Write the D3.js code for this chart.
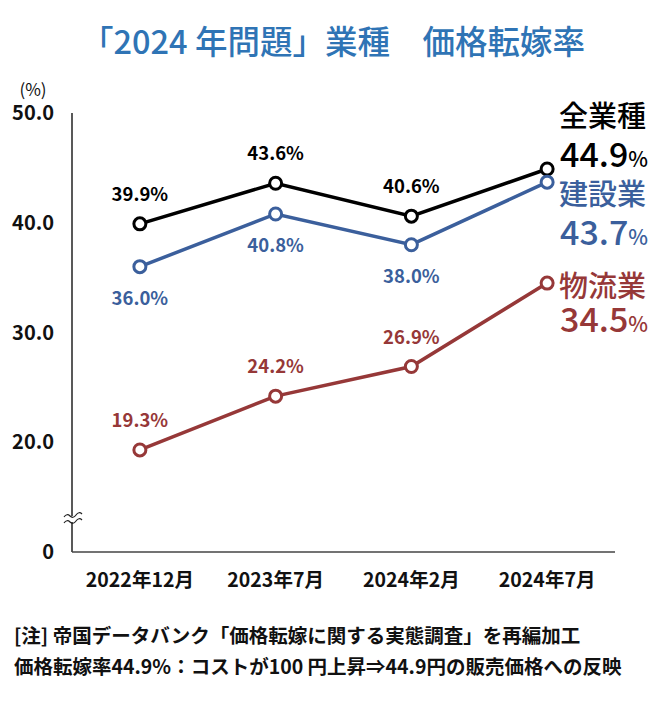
<!DOCTYPE html>
<html><head><meta charset="utf-8">
<script src="https://cdn.jsdelivr.net/npm/d3@7"></script>
<style>
html,body{margin:0;padding:0;background:#fff;}
text{font-family:"Noto Sans CJK JP","Noto Sans",sans-serif;}
</style></head>
<body><svg id="c" width="665" height="702"></svg>
<script>
const categories = ["2022年12月","2023年7月","2024年2月","2024年7月"];
const seriesNames = ["全業種","建設業","物流業"];
const allIndustry = [39.9, 43.6, 40.6, 44.9];
const construction = [36.0, 40.8, 38.0, 43.7];
const logistics = [19.3, 24.2, 26.9, 34.5];
const yTicks = [20, 30, 40, 50];
const yTickLabels = ["20.0","30.0","40.0","50.0"];
const colors = ["#000000","#3b5f9c","#963838"];
const labelPos = [["above","above","above",null],["below","below","below",null],["above","above","above",null]];

const svg = d3.select("#c");
const x = d3.scaleBand().domain(categories).range([72,615]);
const y = d3.scaleLinear().domain([10,50]).range([552,113]);

// title
svg.append("text").attr("x",333).attr("y",54).attr("text-anchor","middle")
  .attr("font-size",32.5).attr("font-weight",500).attr("fill","#2f74b5")
  .text("「2024 年問題」業種　価格転嫁率");

// axes
svg.append("line").attr("x1",72).attr("x2",72).attr("y1",y(50)).attr("y2",y(10)).attr("stroke","#222").attr("stroke-width",1.5);
svg.append("line").attr("x1",72).attr("x2",615).attr("y1",y(10)).attr("y2",y(10)).attr("stroke","#444").attr("stroke-width",1.5);

// break mark
const bk = svg.append("g").attr("transform","translate(72,520)");
bk.append("rect").attr("x",-6).attr("y",-4).attr("width",12).attr("height",6).attr("fill","#fff");
["M-8,-3 q3,-4 6,-1 t6,-1 t6,-1","M-8,3 q3,-4 6,-1 t6,-1 t6,-1"].forEach(d=>
  bk.append("path").attr("d",d).attr("fill","none").attr("stroke","#222").attr("stroke-width",1.2));

// y tick labels
yTicks.forEach((t,i)=>{
  svg.append("text").attr("x",54).attr("y",y(t)+7).attr("text-anchor","end")
    .attr("font-size",20).attr("font-weight",700).attr("fill","#111").text(yTickLabels[i]);
});
svg.append("text").attr("x",54).attr("y",y(10)+7).attr("text-anchor","end")
  .attr("font-size",20).attr("font-weight",700).attr("fill","#111").text("0");
svg.append("text").attr("x",33).attr("y",96).attr("text-anchor","middle")
  .attr("font-size",17).attr("fill","#111").text("(%)");

// x labels
categories.forEach(c=>{
  svg.append("text").attr("x",x(c)+x.bandwidth()/2).attr("y",587).attr("text-anchor","middle")
    .attr("font-size",19.5).attr("font-weight",700).attr("fill","#111").text(c);
});

const series = [allIndustry, construction, logistics];
const line = d3.line().x((d,i)=>x(categories[i])+x.bandwidth()/2).y(d=>y(d));
series.forEach((s,k)=>{
  svg.append("path").attr("d",line(s)).attr("fill","none").attr("stroke",colors[k]).attr("stroke-width",3.5);
  s.forEach((v,i)=>{
    const cx = x(categories[i])+x.bandwidth()/2, cy = y(v);
    svg.append("circle").attr("cx",cx).attr("cy",cy).attr("r",6).attr("fill","#fff")
      .attr("stroke",colors[k]).attr("stroke-width",3);
    const p = labelPos[k][i];
    if(p){
      svg.append("text").attr("x",cx).attr("y", p==="above"? cy-23 : cy+38).attr("text-anchor","middle")
        .attr("font-size",18.5).attr("font-weight",700).attr("fill",colors[k]).text(v.toFixed(1)+"%");
    }
  });
});

// end labels
const endY = [[127,167],[205,245],[297,332]];
series.forEach((s,k)=>{
  svg.append("text").attr("x",559).attr("y",endY[k][0]).attr("font-size",29).attr("font-weight",500)
    .attr("fill",colors[k]).text(seriesNames[k]);
  const t = svg.append("text").attr("x",560).attr("y",endY[k][1]).attr("fill",colors[k]).attr("font-weight",500);
  t.append("tspan").attr("font-size",34).text(s[s.length-1].toFixed(1));
  t.append("tspan").attr("font-size",21).text("%");
});

// notes
svg.append("text").attr("x",14).attr("y",643).attr("font-size",19.5).attr("font-weight",700).attr("fill","#111")
  .text("[注] 帝国データバンク「価格転嫁に関する実態調査」を再編加工");
svg.append("text").attr("x",14).attr("y",674).attr("font-size",19.5).attr("font-weight",700).attr("fill","#111")
  .text("価格転嫁率44.9%：コストが100 円上昇⇒44.9円の販売価格への反映");
</script></body></html>
